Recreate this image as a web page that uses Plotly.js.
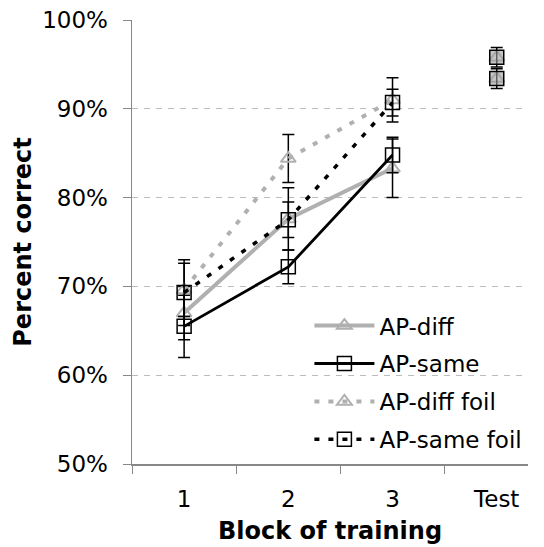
<!DOCTYPE html>
<html>
<head>
<meta charset="utf-8">
<script src="https://cdn.plot.ly/plotly-3.0.1.min.js"></script>
<style>html,body{margin:0;padding:0;background:#fff}#chart{width:544px;height:547px}</style>
</head>
<body>
<div id="chart"></div>
<script>
const categories = ['1', '2', '3', 'Test'];
const blocks = ['1', '2', '3'];
const apDiff = [67.0, 77.6, 83.3];
const apDiffErr = [3.0, 3.5, 3.3];
const apSame = [65.5, 72.2, 84.8];
const apSameErr = [3.5, 1.9, 2.0];
const apDiffFoil = [69.6, 84.4, 91.0];
const apDiffFoilErr = [3.0, 2.7, 2.5];
const apSameFoil = [69.3, 77.5, 90.7];
const apSameFoilErr = [3.7, 2.0, 1.5];
const testX = ['Test', 'Test'];
const testY = [95.8, 93.4];
const testErr = [1.1, 1.1];
const yTicks = [50, 60, 70, 80, 90, 100];
const yTickText = ['50%', '60%', '70%', '80%', '90%', '100%'];

const gray = '#b0b0b0';
function eb(arr) { return {type: 'data', array: arr, visible: true, color: '#000', thickness: 1.5, width: 6}; }

const traces = [
  {x: blocks, y: apDiff, name: 'AP-diff', legendgroup: 'a', mode: 'lines+markers',
   line: {color: gray, width: 4}, marker: {symbol: 'triangle-up-open', size: 13, color: gray, line: {width: 2}},
   error_y: eb(apDiffErr)},
  {x: blocks, y: apSame, name: 'AP-same', legendgroup: 'b', mode: 'lines+markers',
   line: {color: '#000', width: 2.8}, marker: {symbol: 'square-open', size: 14, color: '#000', line: {width: 1.5}},
   error_y: eb(apSameErr)},
  {x: blocks, y: apDiffFoil, name: 'AP-diff foil', legendgroup: 'c', mode: 'lines+markers',
   line: {color: gray, width: 4, dash: '5px,9px'}, marker: {symbol: 'triangle-up-open', size: 13, color: gray, line: {width: 2}},
   error_y: eb(apDiffFoilErr)},
  {x: blocks, y: apSameFoil, name: 'AP-same foil', legendgroup: 'd', mode: 'lines+markers',
   line: {color: '#000', width: 3.5, dash: '5px,9px'}, marker: {symbol: 'square-open', size: 14, color: '#000', line: {width: 1.5}},
   error_y: eb(apSameFoilErr)},
  {x: testX, y: testY, showlegend: false, mode: 'markers', hoverinfo: 'skip',
   marker: {symbol: 'triangle-up-open', size: 13, color: gray, line: {width: 2}}},
  {x: testX, y: testY, showlegend: false, mode: 'markers',
   marker: {symbol: 'square', size: 14, color: 'rgba(160,160,160,0.6)', line: {color: '#000', width: 1.5}},
   error_y: eb(testErr)}
];

const layout = {
  width: 544, height: 547,
  margin: {l: 132, r: 16, t: 20, b: 83},
  paper_bgcolor: '#fff', plot_bgcolor: '#fff',
  font: {family: 'DejaVu Sans, Verdana, sans-serif', color: '#000', size: 23},
  showlegend: true,
  legend: {x: 0.448, y: 0.36, xanchor: 'left', yanchor: 'top', bgcolor: 'rgba(255,255,255,0)',
    font: {size: 23}, itemwidth: 60, tracegroupgap: 5, traceorder: 'grouped'},
  xaxis: {type: 'category', categoryorder: 'array', categoryarray: categories,
    range: [-0.5, 3.3], showgrid: false, zeroline: false,
    showline: true, linecolor: '#888', linewidth: 1.5,
    ticks: 'outside', tickson: 'boundaries', ticklen: 8, tickcolor: '#888',
    ticklabelstandoff: 14,
    tickfont: {size: 23}, title: {text: 'Block of training', font: {size: 24, weight: 'bold'}, standoff: 11}},
  yaxis: {range: [50, 100], tickvals: yTicks, ticktext: yTickText,
    showgrid: true, gridcolor: '#bbb', griddash: '6px,6px', gridwidth: 1,
    zeroline: false, showline: true, linecolor: '#888', linewidth: 1.5,
    ticks: 'outside', ticklen: 8, tickcolor: '#888', tickfont: {size: 23},
    ticklabelstandoff: 10,
    title: {text: 'Percent correct', font: {size: 24, weight: 'bold'}, standoff: 3}}
};

Plotly.newPlot('chart', traces, layout, {displayModeBar: false, staticPlot: true});
</script>
</body>
</html>
